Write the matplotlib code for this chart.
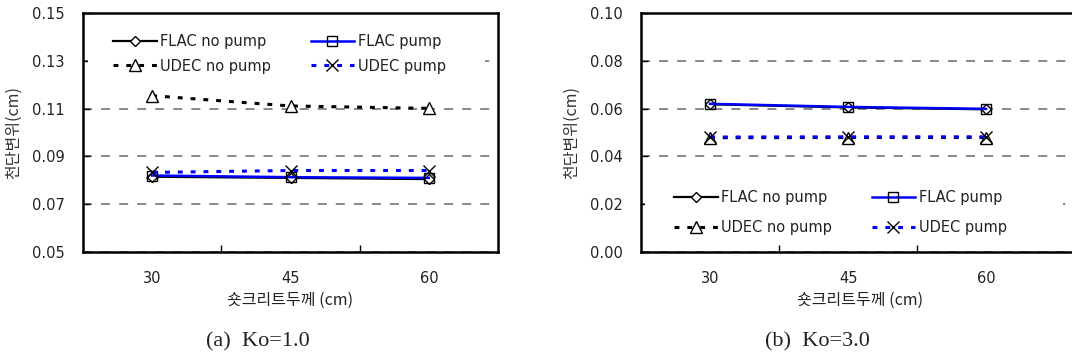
import matplotlib
matplotlib.use("Agg")
import matplotlib.pyplot as plt
from matplotlib.patches import Rectangle
import numpy as np

thickness = ["30", "45", "60"]

# (a) Ko=1.0
a_flac_no_pump = [0.0815, 0.0810, 0.0805]
a_flac_pump = [0.0820, 0.0813, 0.0810]
a_udec_no_pump = [0.1154, 0.1111, 0.1101]
a_udec_pump = [0.0833, 0.0841, 0.0841]

# (b) Ko=3.0
b_flac_no_pump = [0.0618, 0.0605, 0.0597]
b_flac_pump = [0.0620, 0.0607, 0.0599]
b_udec_no_pump = [0.0478, 0.0479, 0.0479]
b_udec_pump = [0.0481, 0.0482, 0.0482]

labels = ["FLAC no pump", "FLAC pump", "UDEC no pump", "UDEC pump"]
captions = ["(a)  Ko=1.0", "(b)  Ko=3.0"]
xlabel = "숏크리트두께 (cm)"
ylabel = "천단변위(cm)"

KFONT = ["Noto Sans CJK KR", "DejaVu Sans"]

W, H = 1072, 358
fig = plt.figure(figsize=(W / 100, H / 100), dpi=100)

def px_axes(x0, x1, y0, y1):
    return fig.add_axes([x0 / W, 1 - y1 / H, (x1 - x0) / W, (y1 - y0) / H])

axA = px_axes(83, 498, 13, 252)
axB = px_axes(641, 1080, 13, 252)

dot = (0, (1.6, 2.6))
styles = [
    dict(color="black", lw=1.6, ls="-", marker="D", ms=5.5, mfc="white", mec="black", mew=1.0),
    dict(color="#0000ff", lw=1.8, ls="-", marker="s", ms=7.5, mfc="none", mec="black", mew=1.0),
    dict(color="black", lw=2.2, ls=dot, marker="^", ms=8, mfc="white", mec="black", mew=1.0),
    dict(color="#0000ff", lw=2.2, ls=dot, marker="x", ms=8, mfc="none", mec="black", mew=1.0),
]

def setup(ax, series, ylim, yticks, xmax, rect, leg_anchor, lspace):
    x = np.arange(len(thickness))
    order = [2, 0, 1, 3]
    handles = [None] * 4
    for i in order:
        h, = ax.plot(x, series[i], label=labels[i], zorder=3 + i * 0.1, **styles[i])
        handles[i] = h
    ax.set_xlim(-0.5, xmax)
    ax.set_ylim(*ylim)
    ax.set_yticks(yticks)
    ax.set_yticklabels([f"{v:.2f}" for v in yticks])
    ax.set_xticks(x)
    ax.set_xticklabels(thickness)
    ax.set_xticks([0.5, 1.5], minor=True)
    ax.tick_params(axis="x", which="major", length=0, pad=14, labelsize=10.5, colors="#222222")
    ax.tick_params(axis="x", which="minor", direction="in", length=5, width=1.0)
    ax.tick_params(axis="y", which="major", direction="in", length=5, width=1.0, pad=13,
                   labelsize=10.5, labelcolor="#222222")
    for s in ax.spines.values():
        s.set_linewidth(1.8)
        s.set_color("black")
    ax.yaxis.grid(True, color="#808080", lw=1.3, ls=(0, (5, 5)))
    ax.set_axisbelow("line")
    ax.add_patch(Rectangle((rect[0], rect[1]), rect[2], rect[3], transform=ax.transAxes,
                           facecolor="white", edgecolor="none", zorder=1.6))
    ax.set_xlabel(xlabel, fontsize=11.5, family=KFONT, labelpad=4, color="#222222")
    ax.set_ylabel(ylabel, fontsize=11.5, family=KFONT, labelpad=7, color="#333333")
    leg_handles = [handles[0], handles[2], handles[1], handles[3]]
    leg = ax.legend(handles=leg_handles, ncol=2, loc="upper left", bbox_to_anchor=leg_anchor,
                    frameon=False, fontsize=10.5, handlelength=3.0, handletextpad=0.25,
                    columnspacing=2.7, labelspacing=lspace, borderaxespad=0, borderpad=0)
    for t in leg.get_texts():
        t.set_color("#222222")
    leg.set_zorder(10)

setup(axA, [a_flac_no_pump, a_flac_pump, a_udec_no_pump, a_udec_pump],
      (0.05, 0.15), [0.05, 0.07, 0.09, 0.11, 0.13, 0.15], 2.5,
      (0.012, 0.72, 0.957, 0.22), (0.072, 0.912), 0.65)
setup(axB, [b_flac_no_pump, b_flac_pump, b_udec_no_pump, b_udec_pump],
      (0.0, 0.10), [0.00, 0.02, 0.04, 0.06, 0.08, 0.10], 2.68,
      (0.009, 0.06, 0.952, 0.22), (0.075, 0.26), 1.05)

fig.text(258 / W, 1 - 342 / H, captions[0], ha="center", va="center",
         fontsize=16, family="Liberation Serif", color="#222222")
fig.text(817 / W, 1 - 342 / H, captions[1], ha="center", va="center",
         fontsize=16, family="Liberation Serif", color="#222222")

fig.savefig("out.png", dpi=100)
